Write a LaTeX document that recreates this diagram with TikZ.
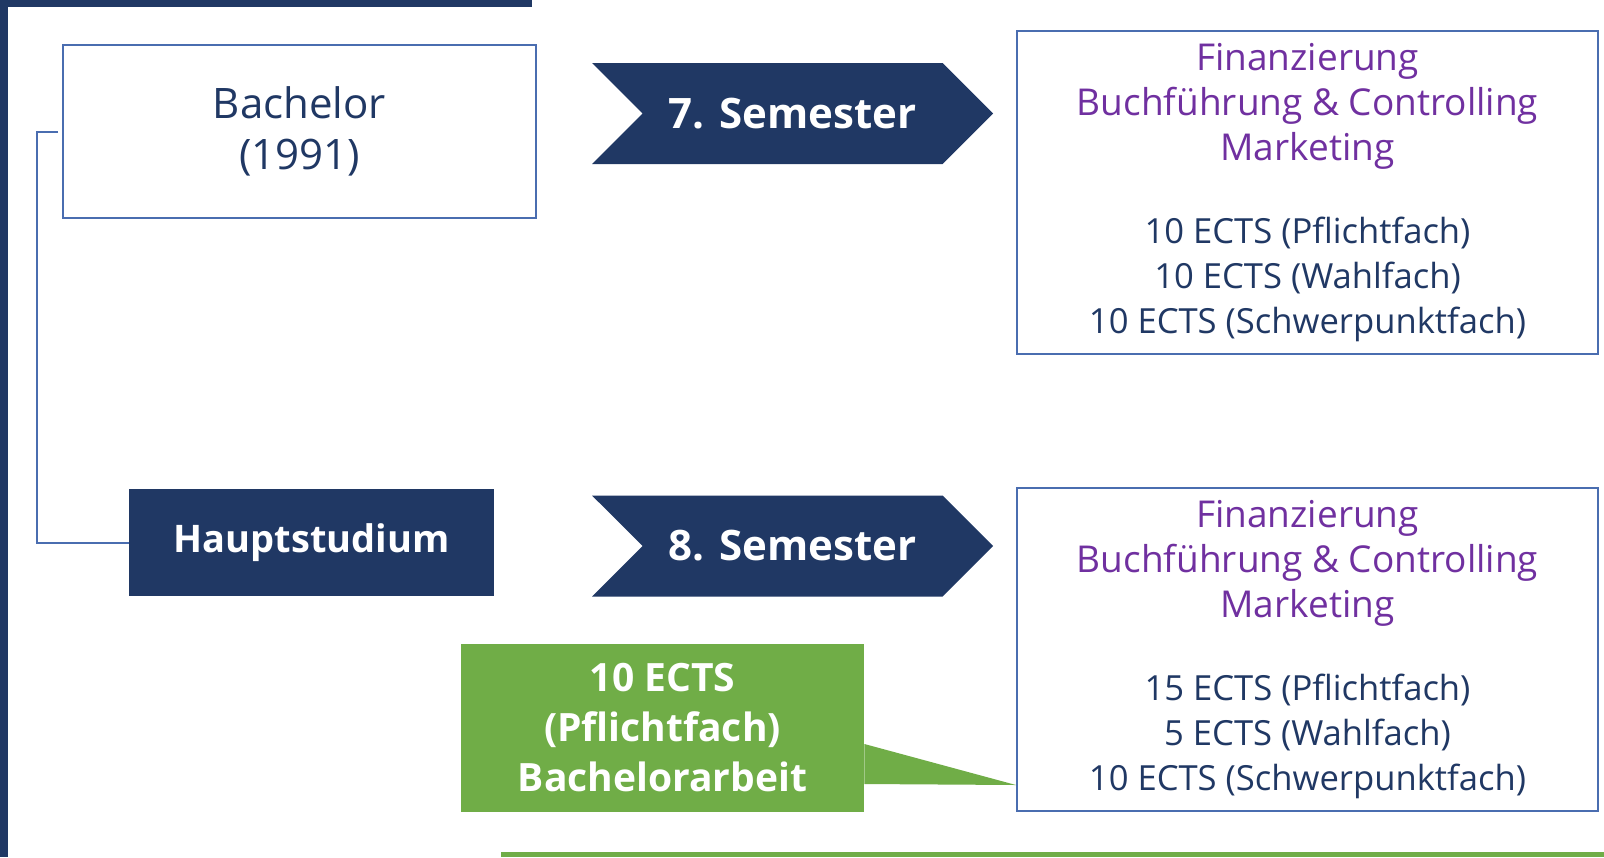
\documentclass[tikz,border=0pt]{standalone}
\usepackage{fontspec}
\setmainfont{Open Sans}
\usepackage{tikz}
\usetikzlibrary{shapes.symbols}
\definecolor{navy}{HTML}{203864}
\definecolor{ectsgreen}{HTML}{70AD47}
\definecolor{fachlila}{HTML}{7030A0}
\definecolor{rahmen}{HTML}{4A6DB0}
\newcommand\modul[1]{{\fontsize{18.5}{22.5}\selectfont\textcolor{fachlila}{#1}}}
\newcommand\semester[3]{\node[semester] (#1) at (#2) {#3};}
\newcommand\faecher[5]{\node[fachbox] (#1) at (#2) {\modul{Finanzierung}\\\modul{Buchführung \& Controlling}\\\modul{Marketing}\\[19pt]#3 ECTS (Pflichtfach)\\#4 ECTS (Wahlfach)\\#5 ECTS (Schwerpunktfach)};}

\begin{document}
\begin{tikzpicture}[x=0.5pt,y=-0.5pt]
\tikzstyle{rahmenbox}=[draw=rahmen,line width=1pt,fill=white,align=center,inner sep=0pt]
\tikzstyle{titel}=[rahmenbox,text=navy,font=\fontsize{21}{25.5}\selectfont,minimum width=236.5pt,minimum height=86.5pt]
\tikzstyle{phase}=[fill=navy,text=white,font=\bfseries\fontsize{19}{23}\selectfont,minimum width=182.5pt,minimum height=53.5pt,inner sep=0pt]
\tikzstyle{semester}=[signal,signal from=west,signal to=east,signal pointer angle=90,fill=navy,text=white,font=\bfseries\fontsize{21}{25}\selectfont,minimum width=200.5pt,minimum height=50.5pt,inner sep=0pt]
\tikzstyle{fachbox}=[rahmenbox,text=navy,font=\fontsize{17.3}{22.5}\selectfont,minimum width=290.5pt,minimum height=161.5pt]
\tikzstyle{arbeit}=[fill=ectsgreen,text=white,align=center,font=\bfseries\fontsize{19.5}{25}\selectfont,minimum width=201.5pt,minimum height=84pt,inner sep=0pt]
\tikzstyle{klammer}=[draw=rahmen,line width=1pt]

\useasboundingbox (0,0) rectangle (1604,857);
\fill[white] (0,0) rectangle (1604,857);
\fill[navy] (0,0) rectangle (8,857);
\fill[navy] (0,0) rectangle (532,7);
\fill[ectsgreen] (501,852) rectangle (1604,857);

\node[titel] (bachelor) at (299.5,131.5) {Bachelor\\(1991)};
\node[phase] (haupt) at (311.5,542.5) {Hauptstudium};
\semester{sem7}{792.5,113.5}{7. Semester}
\semester{sem8}{792.5,546}{8. Semester}
\faecher{f7}{1307.5,192.5}{10}{10}{10}
\faecher{f8}{1307.5,649.5}{15}{5}{10}
\node[arbeit] (ba) at (662.5,728) {10 ECTS\\(Pflichtfach)\\Bachelorarbeit};

\draw[klammer] ([xshift=-2pt]bachelor.west) -- ++(-21,0) |- (haupt.west);
\fill[ectsgreen] ([yshift=-8pt]ba.east) -- ([yshift=13.5pt]f8.south west) -- ([yshift=-28pt]ba.east) -- cycle;
\end{tikzpicture}
\end{document}
